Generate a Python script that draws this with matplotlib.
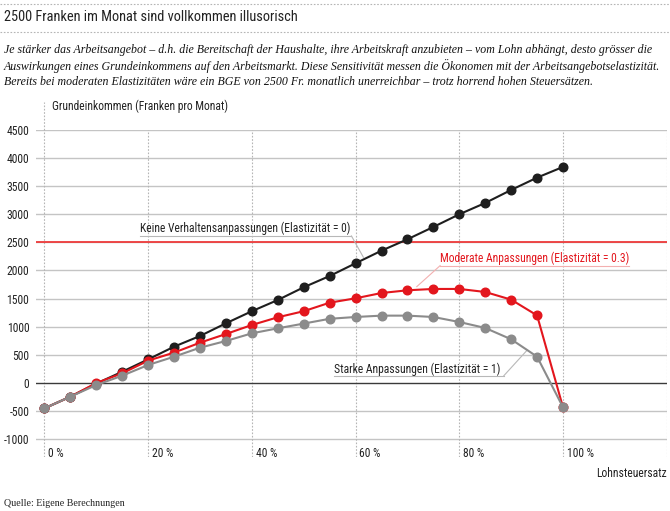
import matplotlib
matplotlib.use("Agg")
import matplotlib.pyplot as plt
from matplotlib import font_manager as fm

# ---------------- data ----------------
tax_rate = [0, 5, 10, 15, 20, 25, 30, 35, 40, 45, 50, 55, 60, 65, 70, 75, 80, 85, 90, 95, 100]
income_elast0 = [-450, -243, -10, 200, 420, 645, 835, 1060, 1275, 1474, 1700, 1900, 2126, 2350,
                 2552, 2771, 2996, 3197, 3428, 3647, 3837]
income_elast03 = [-450, -243, 0, 172, 397, 540, 716, 870, 1030, 1167, 1275, 1426, 1504, 1598,
                  1646, 1670, 1670, 1616, 1480, 1200, -432]
income_elast1 = [-450, -243, -36, 130, 320, 467, 627, 746, 882, 971, 1055, 1140, 1172, 1196,
                 1196, 1172, 1083, 977, 776, 467, -432]
target_income = 2500
yticks = [-1000, -500, 0, 500, 1000, 1500, 2000, 2500, 3000, 3500, 4000, 4500]
xticks = [0, 20, 40, 60, 80, 100, 120]
xtick_labels = ["0 %", "20 %", "40 %", "60 %", "80 %", "100 %"]

title = "2500 Franken im Monat sind vollkommen illusorisch"
subtitle = ("Je stärker das Arbeitsangebot – d.h. die Bereitschaft der Haushalte, ihre Arbeitskraft anzubieten – vom Lohn abhängt, desto grösser die\n"
            "Auswirkungen eines Grundeinkommens auf den Arbeitsmarkt. Diese Sensitivität messen die Ökonomen mit der Arbeitsangebotselastizität.\n"
            "Bereits bei moderaten Elastizitäten wäre ein BGE von 2500 Fr. monatlich unerreichbar – trotz horrend hohen Steuersätzen.")
label0 = "Keine Verhaltensanpassungen (Elastizität = 0)"
label03 = "Moderate Anpassungen (Elastizität = 0.3)"
label1 = "Starke Anpassungen (Elastizität = 1)"

# ---------------- fonts ----------------
avail = {f.name for f in fm.fontManager.ttflist}
def pick(*names):
    for n in names:
        if n in avail:
            return n
    return "DejaVu Sans"
sans = pick("Liberation Sans Narrow", "Roboto Condensed", "DejaVu Sans Condensed", "Roboto")
serif = pick("Liberation Serif", "DejaVu Serif")

BLACK = "#1e1e1e"
RED = "#e3161d"
GREY = "#8b8b8b"

fig = plt.figure(figsize=(6.7, 5.11), dpi=100)
W, H = 670, 511
ax = fig.add_axes([36.2 / W, 1 - 457.3 / H, 630.5 / W, 327.7 / H])
ax.set_xlim(-1.6, 120)
ax.set_ylim(-1320, 4500)

for s in ax.spines.values():
    s.set_visible(False)

# grid
for y in yticks:
    if y == 0:
        continue
    ax.axhline(y, color="#c4c4c4", lw=1.0, zorder=1)
for x in xticks:
    ax.axvline(x, color="#b5b5b5", lw=0.8, ls=(0, (1.5, 1.5)), zorder=1)
ax.plot([0, 0], [4500, 4990], color="#b5b5b5", lw=0.8, ls=(0, (1.5, 1.5)), clip_on=False)
ax.axhline(0, color="#3a3a3a", lw=1.0, zorder=2)
ax.axhline(target_income, color="#ee3a3a", lw=1.3, zorder=2)

ms = 6.2
ax.plot(tax_rate, income_elast0, color=BLACK, lw=1.5, marker="o", ms=ms, zorder=4)
ax.plot(tax_rate, income_elast03, color=RED, lw=1.5, marker="o", ms=ms, zorder=5)
ax.plot(tax_rate, income_elast1, color=GREY, lw=1.5, marker="o", ms=ms, zorder=6)

ax.set_yticks(yticks)
ax.set_yticklabels([str(v) for v in yticks], fontsize=8.4, family=sans, color="#222222")
ax.tick_params(axis="y", length=0, pad=5)
ax.set_xticks([])

for x, lab in zip(xticks, xtick_labels):
    ax.text(x + 0.7, -1260, lab, ha="left", va="center", fontsize=8.4, family=sans, color="#222222")

ax.text(1.4, 4920, "Grundeinkommen (Franken pro Monat)", ha="left", va="center",
        fontsize=8.4, family=sans, color="#222222", clip_on=False)
ax.text(120, -1600, "Lohnsteuersatz", ha="right", va="center", fontsize=8.4, family=sans,
        color="#222222", clip_on=False)

# annotations
def annot(text, x0, x1, ytext, yline, lead, color, linecol):
    ax.text(x0, ytext, text, ha="left", va="center", fontsize=8.4, family=sans, color=color, zorder=7)
    ax.plot([x0, x1], [yline, yline], color=linecol, lw=0.8, zorder=3)
    ax.plot(*zip(*lead), color=linecol, lw=0.8, zorder=3)

annot(label0, 18.4, 59.2, 2745, 2611, [(59.2, 2611), (61.5, 2233)], "#222222", "#b8b8b8")
annot(label03, 76.3, 112.8, 2215, 2084, [(76.3, 2084), (71.8, 1711)], RED, "#f3b0b0")
annot(label1, 55.9, 88.6, 243, 130, [(88.6, 130), (93.0, 574)], "#222222", "#b8b8b8")

# header
fig.text(4 / W, 1 - 17 / H, title, ha="left", va="center", fontsize=10.4, family=sans, color="#222222")
for yy in (4, 32):
    fig.add_artist(plt.Line2D([0, 1], [1 - yy / H, 1 - yy / H], color="#b5b5b5", lw=0.8,
                              ls=(0, (1.5, 1.5))))
fig.text(4 / W, 1 - 44 / H, subtitle, ha="left", va="top", fontsize=8.6, family=serif,
         style="italic", color="#111111", linespacing=1.28)
fig.text(4 / W, 1 - 503 / H, "Quelle: Eigene Berechnungen", ha="left", va="center",
         fontsize=7.2, family=serif, color="#222222")

fig.savefig("out.png", dpi=100)
